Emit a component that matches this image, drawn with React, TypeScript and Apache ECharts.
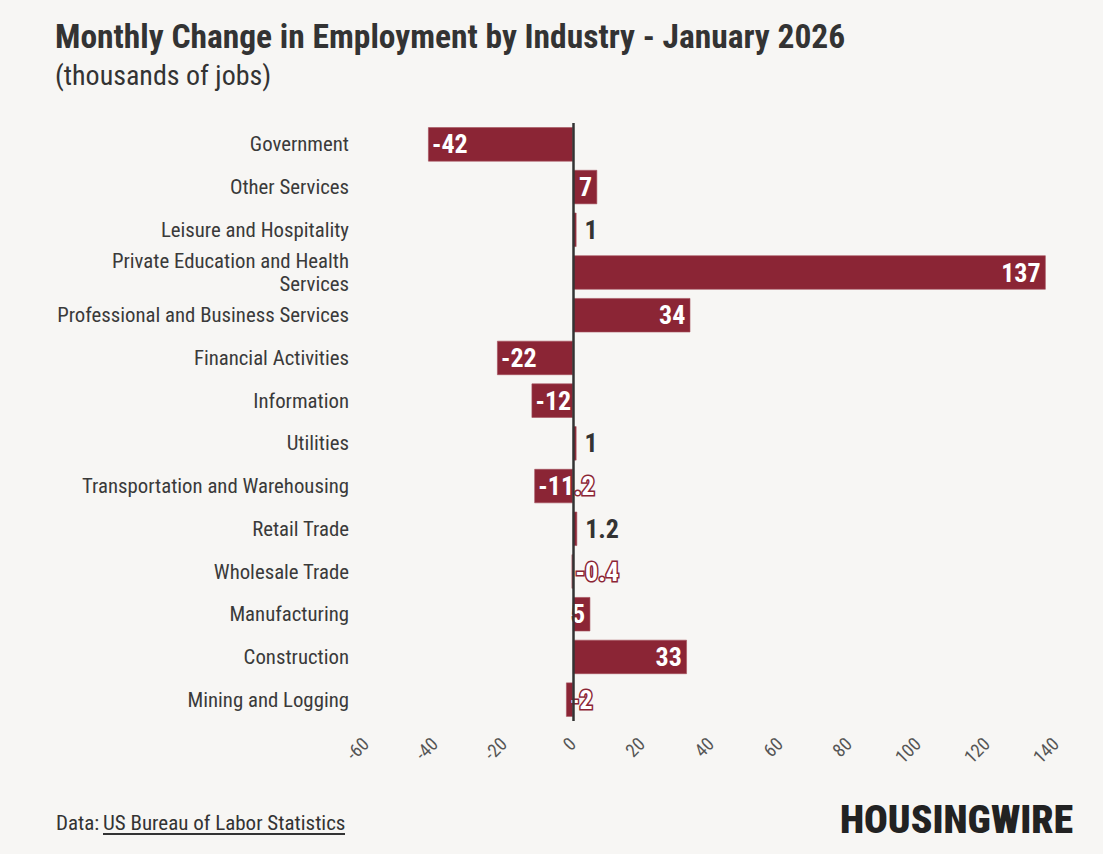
import React, { useEffect, useRef } from "react";
import * as echarts from "echarts";

const categories: string[] = [
  "Government",
  "Other Services",
  "Leisure and Hospitality",
  "Private Education and Health\nServices",
  "Professional and Business Services",
  "Financial Activities",
  "Information",
  "Utilities",
  "Transportation and Warehousing",
  "Retail Trade",
  "Wholesale Trade",
  "Manufacturing",
  "Construction",
  "Mining and Logging",
];

const values: number[] = [-42, 7, 1, 137, 34, -22, -12, 1, -11.2, 1.2, -0.4, 5, 33, -2];

const axisTicks: number[] = [-60, -40, -20, 0, 20, 40, 60, 80, 100, 120, 140];

const titleText = "Monthly Change in Employment by Industry - January 2026";
const subtitleText = "(thousands of jobs)";
const sourcePrefix = "Data: ";
const sourceText = "US Bureau of Labor Statistics";
const logoText = "HOUSINGWIRE";

const FONT = "'Roboto Condensed', 'Liberation Sans Narrow', 'Arial Narrow', 'DejaVu Sans Condensed', Roboto, sans-serif";
const BAR = "#8b2535";
const BG = "#f7f6f4";

export default function App() {
  const ref = useRef<HTMLDivElement>(null);

  useEffect(() => {
    document.body.style.margin = "0";
    if (!ref.current) return;
    const chart = echarts.init(ref.current, undefined, { renderer: "svg" });

    const data = values.map((v) => {
      let label: any;
      if (v >= 5) {
        label = {
          position: "insideRight",
          distance: 5,
          color: "#fff",
          textBorderColor: BAR,
          textBorderWidth: 3,
        };
      } else if (v > 0) {
        label = {
          position: "right",
          distance: 8,
          color: "#333",
          textBorderWidth: 0,
        };
      } else {
        label = {
          position: "insideLeft",
          distance: 4,
          color: "#fff",
          textBorderColor: BAR,
          textBorderWidth: 3,
        };
      }
      return { value: v, label };
    });

    chart.setOption({
      animation: false,
      backgroundColor: BG,
      textStyle: { fontFamily: FONT },
      title: [
        {
          text: titleText,
          left: 50,
          top: 14,
          textStyle: { fontFamily: FONT, fontSize: 33.5, fontWeight: "bold", color: "#333" },
        },
        {
          text: subtitleText,
          left: 50,
          top: 56,
          textStyle: { fontFamily: FONT, fontSize: 28, fontWeight: "normal", color: "#333" },
        },
      ],
      grid: { left: 366, right: 47, top: 123, bottom: 133, containLabel: false },
      xAxis: {
        type: "value",
        min: axisTicks[0],
        max: axisTicks[axisTicks.length - 1],
        interval: 20,
        axisLine: { show: false },
        axisTick: { show: false },
        splitLine: { show: false },
        axisLabel: {
          rotate: 45,
          margin: 20,
          fontSize: 18.5,
          color: "#555",
          fontFamily: FONT,
        },
      },
      yAxis: {
        type: "category",
        data: categories,
        inverse: true,
        axisLine: { show: false },
        axisTick: { show: false },
        splitLine: { show: false },
        axisLabel: {
          margin: 17,
          fontSize: 20.8,
          lineHeight: 23,
          color: "#3a3a3a",
          fontFamily: FONT,
          align: "right",
        },
      },
      series: [
        {
          type: "bar",
          data,
          barWidth: "80%",
          itemStyle: { color: BAR, borderColor: "#a5505c", borderWidth: 0.6 },
          label: {
            show: true,
            fontSize: 26,
            fontWeight: "bold",
            fontFamily: FONT,
            formatter: (p: any) => String(p.value),
          },
          labelLayout: { hideOverlap: false },
          markLine: {
            silent: true,
            symbol: ["none", "none"],
            label: { show: false },
            lineStyle: { color: "#333", width: 2.5, type: "solid" },
            data: [{ xAxis: 0 }],
            z: 3,
          },
        },
      ],
      graphic: [
        {
          type: "text",
          left: 56,
          top: 812,
          style: { text: sourcePrefix, fontFamily: FONT, fontSize: 21, fill: "#333" },
        },
        {
          type: "text",
          left: 103,
          top: 812,
          style: { text: sourceText, fontFamily: FONT, fontSize: 21, fill: "#333" },
        },
        {
          type: "rect",
          left: 103,
          top: 833,
          shape: { width: 242, height: 2 },
          style: { fill: "#333" },
        },
        {
          type: "text",
          right: 30,
          top: 799,
          style: {
            text: logoText,
            fontFamily: FONT,
            fontSize: 39.5,
            fontWeight: 900,
            fill: "#222",
          },
        },
      ],
    });

    return () => chart.dispose();
  }, []);

  return (
    <div
      ref={ref}
      style={{ position: "absolute", left: 0, top: 0, width: 1103, height: 854 }}
    />
  );
}
